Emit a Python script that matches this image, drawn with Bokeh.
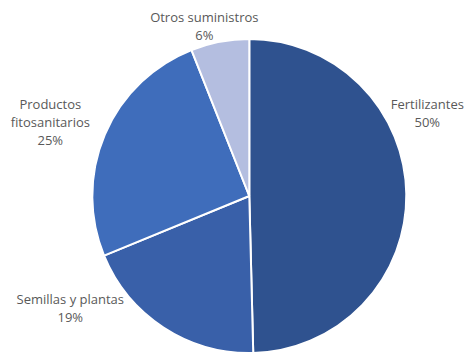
import math
from bokeh.plotting import figure
from bokeh.models import ColumnDataSource, Range1d
from bokeh.core.properties import value
from bokeh.embed import file_html
from bokeh.resources import INLINE

# ---- data ----
categories = ["Fertilizantes", "Semillas y plantas", "Productos fitosanitarios", "Otros suministros"]
shares = [49.6, 19.2, 25.2, 6.0]
label_lines = [["Fertilizantes"], ["Semillas y plantas"], ["Productos", "fitosanitarios"], ["Otros suministros"]]

# ---- style / layout ----
colors = ["#2F528F", "#3960A9", "#3F6DBB", "#B4BEE0"]
W, H = 467, 354
CX, CY = 248.8, 195.5           # pie centre in figure pixels (from top-left)
R = 157
label_anchor = [(178, 92.5), (-179, -102.5), (-199, 92.5), (-45, 179.5)]  # centre of first line, px from pie centre
LINE_H = 18

p = figure(width=W, height=H, output_backend="svg", toolbar_location=None,
           x_range=Range1d(-CX, W - CX), y_range=Range1d(-(H - CY), CY),
           min_border=0, outline_line_color=None, background_fill_color="white")
p.axis.visible = False
p.grid.visible = False

total = sum(shares)
starts, ends = [], []
cum = 0.0
for s in shares:
    starts.append(math.pi / 2 - cum / total * 2 * math.pi)
    cum += s
    ends.append(math.pi / 2 - cum / total * 2 * math.pi)

src = ColumnDataSource(dict(start=starts, end=ends, color=colors, cat=categories))
p.wedge(x=0, y=0, radius=R, start_angle="start", end_angle="end", direction="clock",
        fill_color="color", line_color="white", line_width=2, source=src)

tx, ty, tt = [], [], []
for lines, s, (ax, ay) in zip(label_lines, shares, label_anchor):
    all_lines = lines + [f"{round(s / total * 100)}%"]
    for i, t in enumerate(all_lines):
        tx.append(ax)
        ty.append(ay - i * LINE_H)
        tt.append(t)

p.text(x=tx, y=ty, text=tt, text_align="center", text_baseline="middle",
       text_font=value("Open Sans"), text_font_size="13px", text_color="#595959")

open("out.html", "w").write(file_html(p, INLINE))
